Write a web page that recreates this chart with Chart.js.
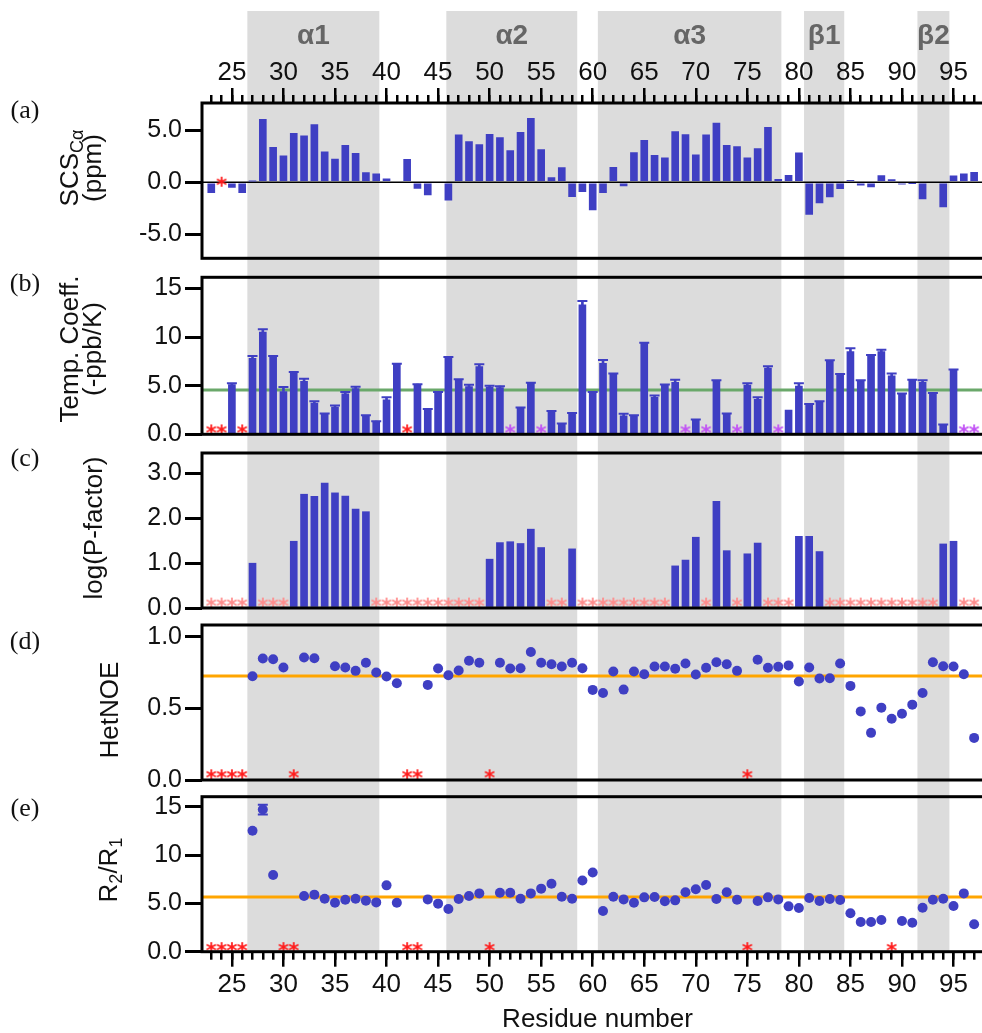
<!DOCTYPE html>
<html>
<head>
<meta charset="utf-8">
<title>Residue profiles</title>
<script src="https://cdn.jsdelivr.net/npm/chart.js@4.4.1/dist/chart.umd.min.js"></script>
<style>
html, body { margin: 0; padding: 0; overflow: hidden; background: #fff; }
body { width: 982px; height: 1033px; position: relative; font-family: "Liberation Sans", Arial, sans-serif; color: #111; }
canvas.panel { position: absolute; left: 0; }
.yt { position: absolute; transform: translate(-50%, -50%) rotate(-90deg); white-space: nowrap; text-align: center; font-size: 26px; line-height: 23px; }
.yt sub { font-size: 18px; vertical-align: -5px; line-height: 0; }
.pl { position: absolute; transform: translate(-50%, -50%); font-family: "Liberation Serif", serif; font-size: 26px; }
</style>
</head>
<body>
<canvas id="panelA" class="panel" width="1000" height="267" style="top:0"></canvas>
<canvas id="panelB" class="panel" width="1000" height="179" style="top:267px"></canvas>
<canvas id="panelC" class="panel" width="1000" height="172" style="top:446px"></canvas>
<canvas id="panelD" class="panel" width="1000" height="171" style="top:618px"></canvas>
<canvas id="panelE" class="panel" width="1000" height="244" style="top:789px"></canvas>

<div class="pl" style="left:25px;top:110px">(a)</div>
<div class="pl" style="left:25px;top:283px">(b)</div>
<div class="pl" style="left:25px;top:458px">(c)</div>
<div class="pl" style="left:25px;top:641px">(d)</div>
<div class="pl" style="left:25px;top:808px">(e)</div>

<div class="yt" style="left:81px;top:168px">SCS<sub>Cα</sub><br>(ppm)</div>
<div class="yt" style="left:81px;top:349px">Temp. Coeff.<br>(-ppb/K)</div>
<div class="yt" style="left:93px;top:528px">log(P-factor)</div>
<div class="yt" style="left:109px;top:710px">HetNOE</div>
<div class="yt" style="left:108px;top:870px">R<sub>2</sub>/R<sub>1</sub></div>

<script>
// residue numbers shown on the x axis
const residue = [23, 24, 25, 26, 27, 28, 29, 30, 31, 32, 33, 34, 35, 36, 37, 38, 39, 40, 41, 42,
    43, 44, 45, 46, 47, 48, 49, 50, 51, 52, 53, 54, 55, 56, 57, 58, 59, 60, 61, 62, 63, 64, 65, 66,
    67, 68, 69, 70, 71, 72, 73, 74, 75, 76, 77, 78, 79, 80, 81, 82, 83, 84, 85, 86, 87, 88, 89, 90,
    91, 92, 93, 94, 95, 96, 97];

// (a) secondary chemical shift of C-alpha
const scsCa = [-1.0, null, -0.5, -1.0, 0.1, 6.05, 3.37, 2.53, 4.71, 4.46,
    5.54, 2.92, 2.24, 3.56, 2.79, 0.93, 0.8, 0.32, null, 2.21,
    -0.58, -1.22, null, -1.73, 4.55, 3.91, 3.62, 4.62, 4.29, 3.04,
    4.81, 6.15, 3.14, 0.45, 1.41, -1.38, -0.9, -2.66, -1.0, 1.44,
    -0.35, 2.85, 4.04, 2.6, 2.34, 4.87, 4.58, 2.63, 4.55, 5.7,
    3.56, 3.43, 2.34, 3.24, 5.29, 0.29, 0.67, 2.82, -3.1, -1.99,
    -1.41, -0.61, 0.19, -0.29, -0.45, 0.64, 0.26, -0.19, -0.1, -1.6,
    null, -2.37, 0.61, 0.8, 0.96];

// (b) amide temperature coefficient and its error
const tempCoeff = [null, null, 5.1, null, 7.8, 10.5, 8.0, 4.4, 6.3, 5.45,
    3.2, 2.1, 2.8, 4.15, 4.7, 1.9, 1.3, 3.55, 7.2, null,
    5.1, 2.55, 4.3, 7.9, 5.6, 4.9, 6.95, 4.85, 4.8, null,
    2.7, 5.25, null, 2.35, 1.05, 2.15, 13.3, 4.3, 7.3, 6.2,
    1.9, 1.9, 9.35, 3.8, 5.07, 5.35, null, 1.47, null, 5.5,
    2.1, null, 5.05, 3.6, 6.8, null, 2.5, 4.95, 3.07, 3.35,
    7.55, 6.15, 8.5, 5.5, 8.1, 8.5, 6.0, 4.15, 5.55, 5.35,
    4.2, 0.95, 6.6, null, null];
const tempErr = [null, null, 0.15, null, 0.25, 0.3, 0.05, 0.45, 0.1, 0.25,
    0.2, 0.05, 0.15, 0.2, 0.2, 0.05, 0.05, 0.25, 0.05, null,
    0.05, 0.05, 0.05, 0.05, 0.05, 0.2, 0.25, 0.15, 0.15, null,
    0.05, 0.05, null, 0.05, 0.05, 0.05, 0.4, 0.05, 0.35, 0.05,
    0.2, 0.05, 0.05, 0.2, 0.05, 0.25, null, 0.05, null, 0.05,
    0.05, null, 0.2, 0.2, 0.2, null, null, 0.3, 0.05, 0.05,
    0.05, 0.05, 0.35, 0.05, 0.05, 0.2, 0.25, 0.05, 0.05, 0.2,
    0.05, 0.05, 0.05, null, null];
const tempMean = 4.55;

// (c) log protection factor
const pFactor = [null, null, null, null, 1.0, null, null, null, 1.49, 2.54,
    2.49, 2.79, 2.57, 2.5, 2.21, 2.15, null, null, null, null,
    null, null, null, null, null, null, null, 1.09, 1.46, 1.48,
    1.44, 1.76, 1.35, null, null, 1.32, null, null, null, null,
    null, null, null, null, null, 0.94, 1.07, 1.58, null, 2.38,
    1.28, null, 1.21, 1.45, null, null, null, 1.6, 1.6, 1.26,
    null, null, null, null, null, null, null, null, null, null,
    null, 1.43, 1.49, null, null];

// (d) heteronuclear NOE
const hetNoe = [null, null, null, null, 0.724, 0.848, 0.843, 0.785, null, 0.855,
    0.85, null, 0.794, 0.785, 0.762, 0.818, 0.75, 0.722, 0.675, null,
    null, 0.664, 0.778, 0.731, 0.764, 0.832, 0.818, null, 0.818, 0.778,
    0.78, 0.893, 0.818, 0.808, 0.792, 0.818, 0.78, 0.629, 0.607, 0.757,
    0.631, 0.757, 0.738, 0.792, 0.792, 0.776, 0.813, 0.736, 0.783, 0.822,
    0.808, 0.762, null, 0.839, 0.783, 0.79, 0.8, 0.687, 0.785, 0.708,
    0.71, 0.813, 0.657, 0.479, 0.329, 0.505, 0.428, 0.463, 0.526, 0.607,
    0.822, 0.794, 0.792, 0.738, 0.294];
const noeMean = 0.726;

// (e) R2/R1 ratio
const r2r1 = [null, null, null, null, 12.5, 14.7, 7.93, null, null, 5.76,
    5.9, 5.48, 5.07, 5.38, 5.48, 5.28, 5.1, 6.86, 5.07, null,
    null, 5.41, 4.97, 4.41, 5.45, 5.76, 6.03, null, 6.1, 6.1,
    5.48, 6.03, 6.52, 7.03, 5.69, 5.48, 7.36, 8.2, 4.2, 5.69,
    5.41, 5.07, 5.62, 5.66, 5.21, 5.31, 6.14, 6.45, 6.9, 5.45,
    6.14, 5.38, null, 5.24, 5.62, 5.41, 4.69, 4.52, 5.55, 5.24,
    5.45, 5.34, 3.97, 3.07, 3.07, 3.28, null, 3.17, 3.0, 4.55,
    5.38, 5.48, 4.72, 6.03, 2.83];
const r2r1ErrResidue = [28];
const r2r1ErrValue = [0.5];
const relaxMean = 5.66;

// residues marked with an asterisk (no data)
const scsMissing = [24];
const tempMissingRed = [23, 24, 26, 42];
const tempMissingPurple = [52, 55, 69, 71, 74, 78, 96, 97];
const pfMissing = [23, 24, 25, 26, 28, 29, 30, 39, 40, 41, 42, 43, 44, 45, 46, 47, 48, 49,
    56, 57, 59, 60, 61, 62, 63, 64, 65, 66, 67, 71, 74, 77, 78, 79,
    83, 84, 85, 86, 87, 88, 89, 90, 91, 92, 93, 96, 97];
const noeMissing = [23, 24, 25, 26, 31, 42, 43, 50, 75];
const relaxMissing = [23, 24, 25, 26, 30, 31, 42, 43, 50, 75, 89];

// secondary structure elements
const ssNames = ['α1', 'α2', 'α3', 'β1', 'β2'];
const ssStart = [26.5, 45.8, 60.5, 80.5, 91.5];
const ssEnd = [39.3, 58.5, 78.3, 84.4, 94.6];

const X_MIN = 22.1, X_MAX = 98.83;
const BLUE = '#3f3fc3';
const FONT = '"Liberation Sans", Arial, sans-serif';

Chart.defaults.font.family = FONT;
Chart.defaults.color = '#111';

function series(vals) {
    return residue.map((r, i) => ({ x: r, y: vals[i] })).filter(p => p.y !== null);
}

function starImage(color) {
    const c = document.createElement('canvas');
    c.width = 18;
    c.height = 18;
    const g = c.getContext('2d');
    g.fillStyle = color;
    g.font = 'bold 21px "DejaVu Sans"';
    g.textAlign = 'center';
    const m = g.measureText('*');
    g.fillText('*', 9, 9 + (m.actualBoundingBoxAscent - m.actualBoundingBoxDescent) / 2);
    return c;
}

function starSet(list, y, color) {
    return {
        type: 'scatter', xAxisID: 'x', yAxisID: 'y', order: 0,
        data: list.map(r => ({ x: r, y })),
        pointStyle: starImage(color), pointRadius: 6
    };
}

function barSet(vals) {
    return {
        type: 'bar', xAxisID: 'x', yAxisID: 'y', order: 2, grouped: false,
        data: series(vals), backgroundColor: BLUE, borderWidth: 0, barThickness: 7
    };
}

function dotSet(vals) {
    return {
        type: 'scatter', xAxisID: 'x', yAxisID: 'y', order: 1,
        data: series(vals), backgroundColor: BLUE, borderWidth: 0, pointRadius: 5
    };
}

function refLine(y, color, width = 3) {
    return {
        type: 'line', xAxisID: 'x', yAxisID: 'y', order: 10,
        data: [{ x: X_MIN, y }, { x: X_MAX, y }],
        borderColor: color, borderWidth: width, pointRadius: 0
    };
}

function capSet(points) {
    return {
        type: 'scatter', xAxisID: 'x', yAxisID: 'y', order: 1,
        data: points, pointStyle: 'line', pointRadius: 5, borderColor: BLUE, borderWidth: 2
    };
}

function stemSet(points) {
    return {
        type: 'bar', xAxisID: 'x', yAxisID: 'y', order: 1, grouped: false,
        data: points, backgroundColor: BLUE, borderWidth: 0, barThickness: 2
    };
}

function yAxis(min, max, step, fmt) {
    return {
        type: 'linear', position: 'left', min, max,
        ticks: { stepSize: step, includeBounds: false, padding: 3, color: '#111', font: { size: 25 }, callback: fmt },
        grid: { drawOnChartArea: false, tickLength: 17, lineWidth: 3, color: '#000' },
        border: { display: false },
        afterFit(s) { s.width = 202; s.paddingTop = 0; s.paddingBottom = 0; }
    };
}

// bar datasets would otherwise switch the x scale to offset mode
function hiddenX() {
    return { x: { type: 'linear', min: X_MIN, max: X_MAX, offset: false, grid: { offset: false }, display: false } };
}

function shownX(position, height, title) {
    return {
        x: {
            type: 'linear', position, min: X_MIN, max: X_MAX, weight: 1, offset: false,
            ticks: { stepSize: 5, includeBounds: false, autoSkip: false, maxRotation: 0,
                padding: position === 'top' ? 0 : 3, color: '#111', font: { size: 26 } },
            grid: { offset: false, drawOnChartArea: false, tickLength: 15, lineWidth: 2.5, color: '#000' },
            border: { display: false },
            title: title
                ? { display: true, text: title, color: '#111', font: { size: 26, lineHeight: 1 }, padding: 0 }
                : { display: false },
            afterFit(s) { s.height = height; s.paddingLeft = 0; s.paddingRight = 0; }
        },
        xMinor: {
            type: 'linear', position, min: X_MIN, max: X_MAX, weight: 0, offset: false,
            ticks: { stepSize: 1, includeBounds: false, display: false },
            grid: { offset: false, drawOnChartArea: false, tickLength: 8, lineWidth: 2.5, color: '#000' },
            border: { display: false },
            afterFit(s) { s.height = 0; s.paddingLeft = 0; s.paddingRight = 0; }
        }
    };
}

// grey bands for the secondary structure elements
const shadePlugin = {
    id: 'shade',
    beforeDraw(chart, args, opts) {
        const { ctx, chartArea } = chart;
        const x = chart.scales.x;
        const top = opts.top || 0;
        const bottom = opts.toArea ? chartArea.bottom : chart.height;
        ctx.save();
        ctx.fillStyle = '#dcdcdc';
        ssStart.forEach((s, i) => {
            const x0 = x.getPixelForValue(s);
            const x1 = x.getPixelForValue(ssEnd[i]);
            ctx.fillRect(x0, top, x1 - x0, bottom - top);
        });
        ctx.restore();
    }
};

const framePlugin = {
    id: 'frame',
    afterDatasetsDraw(chart) {
        const { ctx, chartArea: a } = chart;
        ctx.save();
        ctx.strokeStyle = '#000';
        ctx.lineWidth = 3;
        ctx.strokeRect(a.left, a.top, a.right - a.left + 20, a.bottom - a.top);
        ctx.restore();
    }
};

const ssLabelPlugin = {
    id: 'ssLabels',
    afterDraw(chart) {
        const { ctx } = chart;
        const x = chart.scales.x;
        ctx.save();
        ctx.fillStyle = '#666';
        ctx.font = 'bold 28px ' + FONT;
        ctx.textAlign = 'center';
        ctx.textBaseline = 'middle';
        ssNames.forEach((n, i) => {
            ctx.fillText(n, x.getPixelForValue((ssStart[i] + ssEnd[i]) / 2), 36);
        });
        ctx.restore();
    }
};

function makeChart(id, datasets, xScales, y, padding, shade, extra = []) {
    return new Chart(document.getElementById(id), {
        type: 'scatter',
        data: { datasets },
        options: {
            responsive: false,
            animation: false,
            events: [],
            layout: { padding },
            plugins: { legend: { display: false }, tooltip: { enabled: false }, shade },
            scales: Object.assign({}, xScales, { y })
        },
        plugins: [shadePlugin, framePlugin, ...extra]
    });
}

const oneDecimal = v => v.toFixed(1);
const mixedDecimal = v => (v < 10 ? v.toFixed(1) : String(v));

// (a)
makeChart('panelA', [
    refLine(0, '#000', 1.5),
    barSet(scsCa),
    starSet(scsMissing, 0.05, '#ff1a1a')
], shownX('top', 103), yAxis(-7.31, 7.62, 5, oneDecimal),
    { top: 0, bottom: 8.7, left: 0, right: 0 }, { top: 11 }, [ssLabelPlugin]);

// (b) with error caps
const tempCaps = [], tempStems = [];
residue.forEach((r, i) => {
    if (tempCoeff[i] !== null && tempErr[i] !== null) {
        tempCaps.push({ x: r, y: tempCoeff[i] + tempErr[i] });
        tempStems.push({ x: r, y: [tempCoeff[i], tempCoeff[i] + tempErr[i]] });
    }
});
makeChart('panelB', [
    refLine(tempMean, '#6aa86a'),
    barSet(tempCoeff),
    stemSet(tempStems),
    capSet(tempCaps),
    starSet(tempMissingRed, 0.5, '#ff1a1a'),
    starSet(tempMissingPurple, 0.5, '#c050f5')
], hiddenX(), yAxis(0, 16.14, 5, mixedDecimal),
    { top: 10.3, bottom: 11.7, left: 0, right: 0 }, {});

// (c)
makeChart('panelC', [
    barSet(pFactor),
    starSet(pfMissing, 0.12, '#ff8c8c')
], hiddenX(), yAxis(0, 3.46, 1, oneDecimal),
    { top: 6.3, bottom: 10, left: 0, right: 0 }, {});

// (d)
makeChart('panelD', [
    refLine(noeMean, '#ffa500'),
    dotSet(hetNoe),
    starSet(noeMissing, 0.04, '#ff1a1a')
], hiddenX(), yAxis(0, 1.082, 0.5, oneDecimal),
    { top: 7, bottom: 9, left: 0, right: 0 }, {});

// (e)
const relaxCaps = [], relaxStems = [];
r2r1ErrResidue.forEach((r, k) => {
    const v = r2r1[residue.indexOf(r)];
    const e = r2r1ErrValue[k];
    relaxCaps.push({ x: r, y: v + e }, { x: r, y: v - e });
    relaxStems.push({ x: r, y: [v - e, v + e] });
});
makeChart('panelE', [
    refLine(relaxMean, '#ffa500'),
    dotSet(r2r1),
    stemSet(relaxStems),
    capSet(relaxCaps),
    starSet(relaxMissing, 0.47, '#ff1a1a')
], shownX('bottom', 81.3, 'Residue number'), yAxis(0, 16.03, 5, mixedDecimal),
    { top: 7.7, bottom: 0, left: 0, right: 0 }, { toArea: true });
</script>
</body>
</html>
